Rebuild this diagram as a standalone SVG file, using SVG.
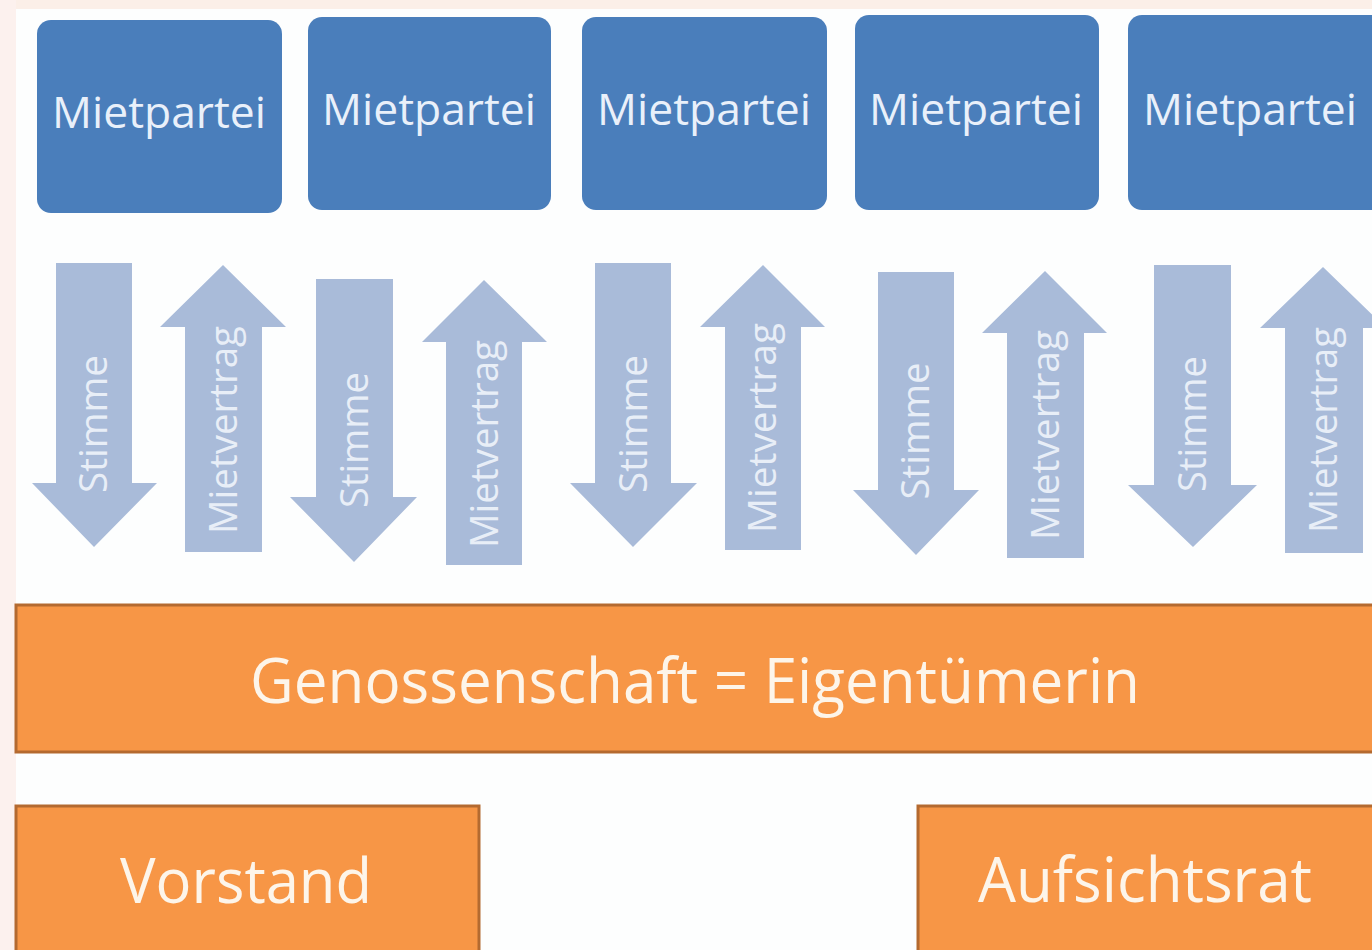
<svg xmlns="http://www.w3.org/2000/svg" width="1372" height="950" viewBox="0 0 1372 950">
<style>
.blue{fill:#4a7ebb}
.btxt{font-family:"Open Sans","Liberation Sans",sans-serif;font-size:43px;fill:#e9f0fa;text-anchor:middle}
.arr{fill:#a9bbd9}
.atxt{font-family:"Open Sans","Liberation Sans",sans-serif;font-size:38px;fill:#e8eef7;text-anchor:middle}
.org{fill:#f79646;stroke:#b46a30;stroke-width:3}
.otxt{font-family:"Open Sans","Liberation Sans",sans-serif;font-size:63px;fill:#fdf5ea;text-anchor:middle}
</style>
<rect x="0" y="0" width="1372" height="950" fill="#fdfefe"/>
<rect x="0" y="0" width="1372" height="9" fill="#fbefe8"/>
<rect x="0" y="0" width="16" height="950" fill="#fcf1ee"/>

<g id="mietpartei1"><rect class="blue" x="37" y="20" width="245" height="193" rx="14"/><text class="btxt" x="159" y="128" textLength="214" lengthAdjust="spacingAndGlyphs">Mietpartei</text></g>
<g id="mietpartei2"><rect class="blue" x="308" y="17" width="243" height="193" rx="14"/><text class="btxt" x="429" y="125" textLength="214" lengthAdjust="spacingAndGlyphs">Mietpartei</text></g>
<g id="mietpartei3"><rect class="blue" x="582" y="17" width="245" height="193" rx="14"/><text class="btxt" x="704" y="125" textLength="214" lengthAdjust="spacingAndGlyphs">Mietpartei</text></g>
<g id="mietpartei4"><rect class="blue" x="855" y="15" width="244" height="195" rx="14"/><text class="btxt" x="976" y="125" textLength="214" lengthAdjust="spacingAndGlyphs">Mietpartei</text></g>
<g id="mietpartei5"><rect class="blue" x="1128" y="15" width="260" height="195" rx="14"/><text class="btxt" x="1250" y="125" textLength="214" lengthAdjust="spacingAndGlyphs">Mietpartei</text></g>

<g id="connectors">
<g id="stimme1"><path class="arr" d="M56,263 H132 V483 H157 L94,547 L32,483 H56 Z"/><text class="atxt" transform="translate(107,424) rotate(-90)" textLength="138" lengthAdjust="spacingAndGlyphs">Stimme</text></g>
<g id="mietvertrag1"><path class="arr" d="M223,265 L286,327 H262 V552 H185 V327 H160 Z"/><text class="atxt" transform="translate(237,430) rotate(-90)" textLength="208" lengthAdjust="spacingAndGlyphs">Mietvertrag</text></g>
<g id="stimme2"><path class="arr" d="M316,279 H393 V497 H417 L354,562 L290,497 H316 Z"/><text class="atxt" transform="translate(368,440) rotate(-90)" textLength="136" lengthAdjust="spacingAndGlyphs">Stimme</text></g>
<g id="mietvertrag2"><path class="arr" d="M484,280 L547,342 H522 V565 H446 V342 H422 Z"/><text class="atxt" transform="translate(498,444) rotate(-90)" textLength="208" lengthAdjust="spacingAndGlyphs">Mietvertrag</text></g>
<g id="stimme3"><path class="arr" d="M595,263 H671 V483 H697 L633,547 L570,483 H595 Z"/><text class="atxt" transform="translate(647,424) rotate(-90)" textLength="138" lengthAdjust="spacingAndGlyphs">Stimme</text></g>
<g id="mietvertrag3"><path class="arr" d="M763,265 L825,327 H801 V550 H725 V327 H700 Z"/><text class="atxt" transform="translate(776,428) rotate(-90)" textLength="210" lengthAdjust="spacingAndGlyphs">Mietvertrag</text></g>
<g id="stimme4"><path class="arr" d="M878,272 H954 V490 H979 L916,555 L853,490 H878 Z"/><text class="atxt" transform="translate(929,431) rotate(-90)" textLength="137" lengthAdjust="spacingAndGlyphs">Stimme</text></g>
<g id="mietvertrag4"><path class="arr" d="M1045,271 L1107,333 H1084 V558 H1007 V333 H982 Z"/><text class="atxt" transform="translate(1059,435) rotate(-90)" textLength="210" lengthAdjust="spacingAndGlyphs">Mietvertrag</text></g>
<g id="stimme5"><path class="arr" d="M1154,265 H1231 V485 H1257 L1193,547 L1128,485 H1154 Z"/><text class="atxt" transform="translate(1206,424) rotate(-90)" textLength="136" lengthAdjust="spacingAndGlyphs">Stimme</text></g>
<g id="mietvertrag5"><path class="arr" d="M1323,267 L1386,328 H1363 V553 H1285 V328 H1260 Z"/><text class="atxt" transform="translate(1337,430) rotate(-90)" textLength="206" lengthAdjust="spacingAndGlyphs">Mietvertrag</text></g>
</g>

<g id="genossenschaft"><rect class="org" x="16" y="605" width="1370" height="147"/><text class="otxt" x="695" y="703" textLength="890" lengthAdjust="spacingAndGlyphs">Genossenschaft = Eigentümerin</text></g>
<g id="vorstand"><rect class="org" x="16" y="806" width="463" height="160"/><text class="otxt" x="246" y="903" font-size="64" textLength="252" lengthAdjust="spacingAndGlyphs">Vorstand</text></g>
<g id="aufsichtsrat"><rect class="org" x="918" y="806" width="470" height="160"/><text class="otxt" x="1145" y="902" font-size="64" textLength="334" lengthAdjust="spacingAndGlyphs">Aufsichtsrat</text></g>
</svg>
